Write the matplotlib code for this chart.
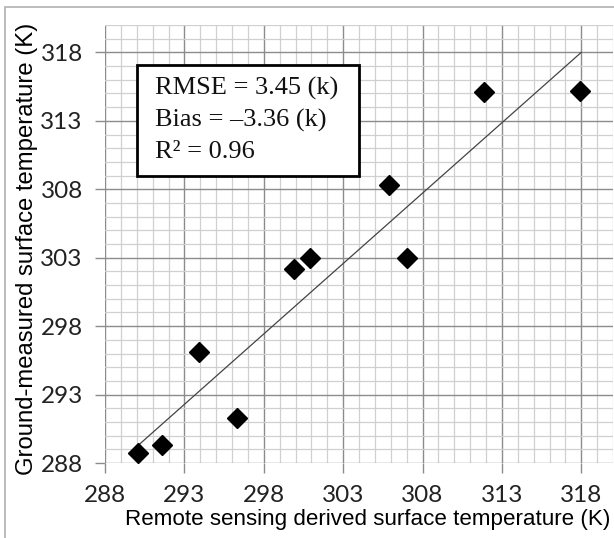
import matplotlib.pyplot as plt
from matplotlib.patches import Rectangle
from matplotlib.ticker import MultipleLocator

# remote sensing derived vs ground measured surface temperature (K)
remote = [290.1, 291.6, 293.9, 296.3, 299.9, 300.9, 305.9, 307.0, 311.9, 317.9]
ground = [288.7, 289.3, 296.1, 291.3, 302.2, 303.0, 308.3, 303.0, 315.1, 315.2]

# fitted line end points
fit_x = [290.1, 318.0]
fit_y = [289.3, 318.0]

ticks = [288, 293, 298, 303, 308, 313, 318]
stats = ["RMSE = 3.45 (k)", "Bias = \u20133.36 (k)", "R\u00b2 = 0.96"]

fig = plt.figure(figsize=(6.14, 5.38), dpi=100)
ax = fig.add_axes([105/614, 1 - 463/538, 508/614, 438/538])

ax.set_xlim(288, 320)
ax.set_ylim(288, 320)
ax.set_xticks(ticks)
ax.set_yticks(ticks)
ax.xaxis.set_minor_locator(MultipleLocator(1))
ax.yaxis.set_minor_locator(MultipleLocator(1))
ax.grid(which='major', color='#8c8c8c', lw=1.0)
ax.grid(which='minor', color='#d0d0d0', lw=0.9)
ax.set_axisbelow(True)
for s in ax.spines.values():
    s.set_visible(False)
ax.tick_params(which='major', length=7, color='#8c8c8c', width=1, pad=9)
ax.tick_params(which='minor', length=0)
for lab in ax.get_xticklabels() + ax.get_yticklabels():
    lab.set_fontfamily('Lato')
    lab.set_fontsize(17.5)
    lab.set_color('#222222')

ax.plot(fit_x, fit_y, color='#444444', lw=0.9, zorder=3)
ax.plot(remote, ground, ls='none', marker='D', ms=10, color='black', zorder=4)

ax.set_xlabel("Remote sensing derived surface temperature (K)",
              family='Liberation Sans', fontsize=16.1)
ax.xaxis.set_label_coords(0.518, -0.105)
ax.set_ylabel("Ground-measured surface temperature (K)",
              family='Liberation Sans', fontsize=17.2)
ax.yaxis.set_label_coords(-0.132, 0.49)

# stats box
ax.add_patch(Rectangle((0.063, 0.655), 0.437, 0.254, transform=ax.transAxes,
                       fc='white', ec='black', lw=2, zorder=5))
for i, line in enumerate(stats):
    ax.text(0.098, 0.856 - i * 0.073, line, transform=ax.transAxes,
            family='Liberation Serif', fontsize=19, va='center', ha='left',
            color='#111111', zorder=6)

fig.patches.append(Rectangle((5/614, -0.1), 1.2, 1 - 7/538 + 0.1,
                             transform=fig.transFigure, fill=False,
                             ec='#b0b0b0', lw=1.2))

fig.savefig('out.png', dpi=100)
